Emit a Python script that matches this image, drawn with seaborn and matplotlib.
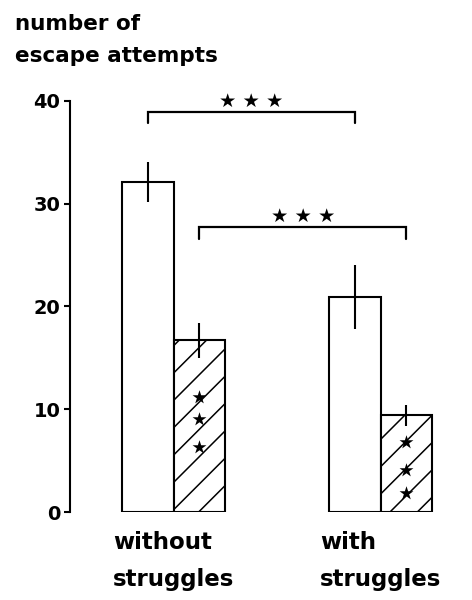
import matplotlib
matplotlib.use("Agg")
import matplotlib.pyplot as plt
import numpy as np
import pandas as pd
import seaborn as sns


conditions = ["without\nstruggles", "with\nstruggles"]
groups = ["plain", "hatched"]
means_plain = [32.1, 20.9]
means_hatched = [16.7, 9.4]
err_plain = [1.9, 3.1]
err_hatched = [1.7, 1.0]

# stars drawn inside the hatched bars
star_y_without = [11.2, 9.0, 6.3]
star_y_with = [6.8, 4.1, 1.8]

# significance brackets (white bars, then hatched bars)
bracket_heights = [38.9, 27.7]

y_ticks = [0, 10, 20, 30, 40]

# lower dpi so the "/" hatch gets the wider line spacing of the original;
# every size in points is scaled back up with PT
DPI = 82
PT = 100 / DPI


def main() -> None:
    sns.set_style("ticks")
    plt.rcParams["font.family"] = ["DejaVu Sans"]
    plt.rcParams["font.weight"] = "bold"
    plt.rcParams["text.color"] = "black"
    plt.rcParams["axes.labelcolor"] = "black"
    plt.rcParams["xtick.color"] = "black"
    plt.rcParams["ytick.color"] = "black"
    plt.rcParams["hatch.linewidth"] = 1.1 * PT

    df = pd.DataFrame(
        {
            "condition": conditions * 2,
            "group": [groups[0]] * 2 + [groups[1]] * 2,
            "value": means_plain + means_hatched,
        }
    )

    fig = plt.figure(figsize=(472 / DPI, 600 / DPI), dpi=DPI)
    ax = fig.add_axes([70 / 472, 88 / 600, 402 / 472, 426.6 / 600])

    sns.barplot(
        data=df,
        x="condition",
        y="value",
        hue="group",
        hue_order=groups,
        order=conditions,
        width=0.5,
        errorbar=None,
        legend=False,
        ax=ax,
    )

    plain_bars = ax.containers[0]
    hatched_bars = ax.containers[1]
    for bar in plain_bars:
        bar.set_facecolor("white")
        bar.set_edgecolor("black")
        bar.set_linewidth(1.5 * PT)
    for bar in hatched_bars:
        bar.set_facecolor("white")
        bar.set_edgecolor("black")
        bar.set_linewidth(1.5 * PT)
        bar.set_hatch("/")

    plain_x = [b.get_x() + b.get_width() / 2 for b in plain_bars]
    hatched_x = [b.get_x() + b.get_width() / 2 for b in hatched_bars]

    ax.errorbar(plain_x, means_plain, yerr=err_plain, fmt="none", ecolor="black", elinewidth=1.5 * PT, capsize=0)
    ax.errorbar(hatched_x, means_hatched, yerr=err_hatched, fmt="none", ecolor="black", elinewidth=1.5 * PT, capsize=0)

    for x, ys in zip(hatched_x, [star_y_without, star_y_with]):
        ax.scatter([x] * len(ys), ys, marker="*", s=110 * PT**2, color="black", zorder=5, linewidths=0)

    drop = 1.1
    for (x0, x1), h in zip([(plain_x[0], plain_x[1]), (hatched_x[0], hatched_x[1])], bracket_heights):
        ax.plot([x0, x0, x1, x1], [h - drop, h, h, h - drop], color="black", lw=1.6 * PT, solid_joinstyle="miter")
        ax.text(
            (x0 + x1) / 2,
            h + 0.15,
            "★ ★ ★",
            ha="center",
            va="bottom",
            fontsize=14 * PT,
            fontweight="normal",
            family=["DejaVu Sans"],
        )

    ax.set_xlim(-0.5, -0.5 + 402 / 207)
    ax.set_ylim(0, 41.5)
    ax.set_yticks(y_ticks)
    ax.set_yticklabels([str(t) for t in y_ticks], fontsize=14 * PT, fontweight="bold")
    ax.tick_params(axis="y", direction="out", length=4 * PT, width=1.5 * PT, pad=3 * PT, color="black")
    ax.tick_params(axis="x", length=0, pad=14 * PT)
    for label in ax.get_xticklabels():
        label.set_fontsize(16.5 * PT)
        label.set_fontweight("bold")
        label.set_multialignment("left")
        label.set_linespacing(1.75)

    sns.despine(ax=ax, top=True, right=True, bottom=True)
    ax.spines["left"].set_bounds(0, 40)
    ax.spines["left"].set_linewidth(1.5 * PT)
    ax.spines["left"].set_color("black")

    ax.set_xlabel("")
    ax.set_ylabel(
        "number of\nescape attempts",
        rotation=0,
        ha="left",
        va="top",
        fontsize=15.5 * PT,
        fontweight="bold",
        linespacing=1.75,
    )
    ax.yaxis.set_label_coords(-0.137, 1.168)

    fig.savefig("out.png", dpi=DPI, facecolor="white")
    plt.close(fig)


if __name__ == "__main__":
    main()
